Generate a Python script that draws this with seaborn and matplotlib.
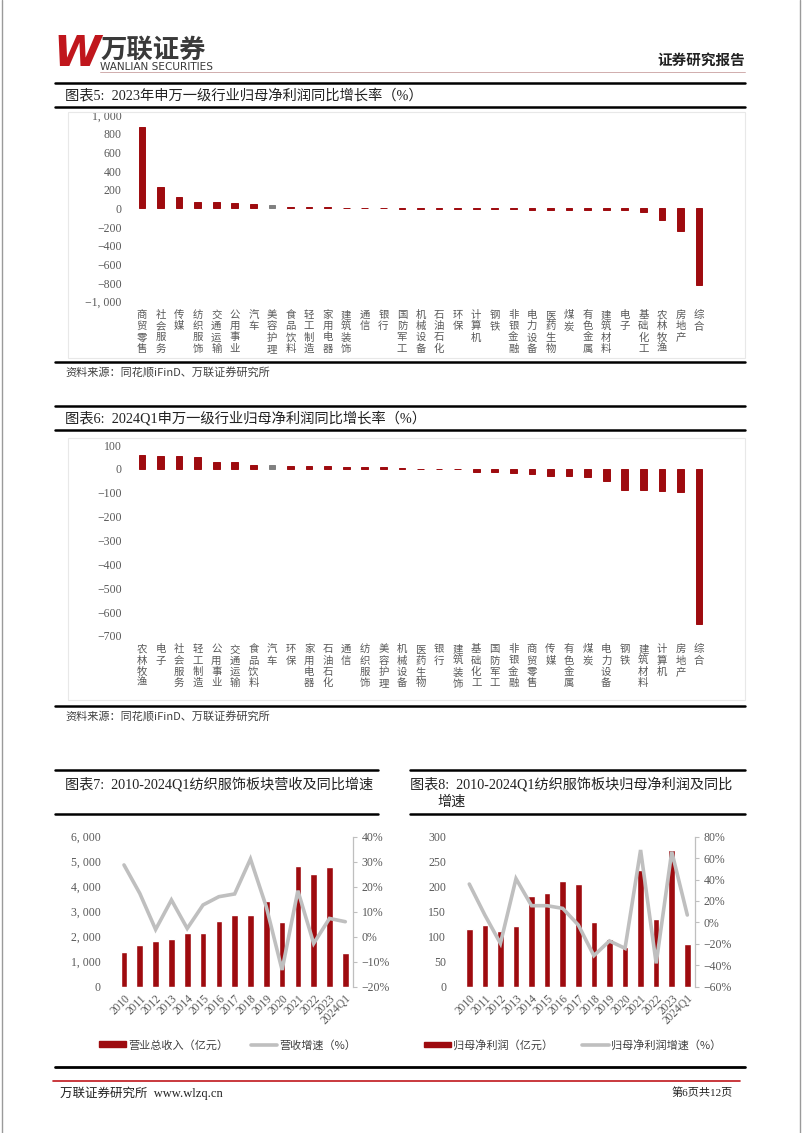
import numpy as np
import pandas as pd
import seaborn as sns
import matplotlib
matplotlib.use('Agg')
from matplotlib import pyplot as plt
from matplotlib.lines import Line2D
from matplotlib.patches import Rectangle, Patch

# ---- data: 2023 industry net profit growth (%)
ind_2023 = ['商贸零售', '社会服务', '传媒', '纺织服饰', '交通运输', '公用事业', '汽车', '美容护理',
            '食品饮料', '轻工制造', '家用电器', '建筑装饰', '通信', '银行', '国防军工', '机械设备',
            '石油石化', '环保', '计算机', '钢铁', '非银金融', '电力设备', '医药生物', '煤炭',
            '有色金属', '建筑材料', '电子', '基础化工', '农林牧渔', '房地产', '综合']
val_2023 = [868, 228, 125, 64, 63, 62, 45, 32, 17, 15, 12, 6, 2, 1, -2, -3,
            -4, -5, -9, -10, -11, -13, -17, -18, -20, -22, -23, -43, -125, -242, -825]

# ---- data: 2024Q1 industry net profit growth (%)
ind_2024 = ['农林牧渔', '电子', '社会服务', '轻工制造', '公用事业', '交通运输', '食品饮料', '汽车',
            '环保', '家用电器', '石油石化', '通信', '纺织服饰', '美容护理', '机械设备', '医药生物',
            '银行', '建筑装饰', '基础化工', '国防军工', '非银金融', '商贸零售', '传媒', '有色金属',
            '煤炭', '电力设备', '钢铁', '建筑材料', '计算机', '房地产', '综合']
val_2024 = [60, 53, 53, 48, 27, 27, 17, 15, 13, 11, 11, 8, 7, 6, 4, -1,
            -1, -1, -14, -14, -17, -20, -28, -31, -35, -52, -87, -90, -92, -97, -650]

# ---- data: textile & apparel sector 2010-2024Q1
years = ['2010', '2011', '2012', '2013', '2014', '2015', '2016', '2017', '2018', '2019',
         '2020', '2021', '2022', '2023', '2024Q1']
revenue = [1400, 1650, 1840, 1890, 2145, 2160, 2640, 2850, 2865, 3430, 2600, 4840, 4505, 4800, 1360]
rev_growth = [28.7, 17.3, 2.9, 14.7, 3.3, 12.7, 16.0, 17.1, 31.1, 12.0, -13.3, 18.4, -2.7, 7.3, 6.0]
profit = [115, 123, 111, 122, 181, 187, 212, 205, 130, 96, 80, 233, 135, 274, 85]
profit_growth = [35.8, 6.9, -19.6, 40.8, 15.6, 15.6, 13.1, -2.4, -31.0, -17.3, -24.2, 67.6, -38.2, 66.0, 6.9]

RED = '#9E0B0F'
GRAY_BAR = '#808080'
GRAY_LINE = '#BFBFBF'
TXT = '#595959'

sns.set_theme(style='white')
plt.rcParams['font.family'] = ['Noto Sans CJK SC', 'DejaVu Sans']
plt.rcParams['axes.unicode_minus'] = True
SERIF = ['Liberation Serif', 'Noto Sans CJK SC', 'DejaVu Sans']

W, H = 802, 1133
fig = plt.figure(figsize=(W / 100, H / 100), dpi=100)


def box(l, t, w, h):
    return [l / W, 1 - (t + h) / H, w / W, h / H]


def hline(y, x0, x1, lw=1.5, color='black'):
    fig.add_artist(Line2D([x0 / W, x1 / W], [1 - y / H, 1 - y / H], lw=lw, color=color))


def ftext(x, y, s, **kw):
    fig.text(x / W, 1 - y / H, s, **kw)


def fmt_num(v):
    s = f'{abs(v):,}'.replace(',', ', ')
    return ('\u2212' + s) if v < 0 else s


# page borders
fig.add_artist(Line2D([1.5 / W, 1.5 / W], [0, 1], lw=1, color='#9A9A9A'))
fig.add_artist(Line2D([800 / W, 800 / W], [0, 1], lw=1, color='#9A9A9A'))

# header
ftext(53, 54, 'W', fontsize=31, color='#C0161C', fontweight='bold', style='italic',
      family='DejaVu Sans', va='center')
ftext(100, 50, '万联证券', fontsize=19, color='#3A3A3A', fontweight='bold', va='center')
ftext(100, 67, 'WANLIAN SECURITIES', fontsize=7.6, color='#3A3A3A', va='center', family='DejaVu Sans')
hline(72, 100, 745, lw=0.6, color='#C9A0A0')
ftext(745, 60, '证券研究报告', fontsize=10.5, fontweight='bold', color='#222222', ha='right', va='center')


def industry_chart(top, title, names, vals, gray_name, ymin, ymax, step, ax_top, ax_h, src_y, frame):
    hline(top, 55, 745, lw=1.8)
    ftext(65, top + 12, title, fontsize=10.3, family=SERIF, va='center', color='#222222')
    hline(top + 24, 55, 745, lw=1.8)
    fig.add_artist(Rectangle((68 / W, 1 - frame[1] / H), 677 / W, (frame[1] - frame[0]) / H,
                             transform=fig.transFigure, fill=False, ec='#E8E8E8', lw=0.8))
    ax = fig.add_axes(box(132.7, ax_top, 575.6, ax_h))
    pal = {n: (GRAY_BAR if n == gray_name else RED) for n in names}
    df = pd.DataFrame({'industry': names, 'value': vals})
    sns.barplot(data=df, x='industry', y='value', hue='industry', palette=pal, legend=False,
                width=0.36, saturation=1, ax=ax, linewidth=0.7)
    # bars keep a hairline outline in their own colour so near-zero values read as dashes
    for p in ax.patches:
        p.set_edgecolor(p.get_facecolor())
    ax.set_xlim(-0.5, len(names) - 0.5)
    ax.set_ylim(ymin, ymax)
    ticks = np.arange(ymin, ymax + 1, step)
    ax.set_yticks(ticks)
    ax.set_yticklabels([fmt_num(int(t)) for t in ticks], family=SERIF, fontsize=8.5, color=TXT)
    ax.set_xticks(range(len(names)))
    ax.set_xticklabels(['\n'.join(n) for n in names], fontsize=7.5, color=TXT,
                       va='top', linespacing=1.15)
    ax.tick_params(axis='both', length=0)
    ax.tick_params(axis='y', pad=8)
    ax.tick_params(axis='x', pad=6)
    ax.set_xlabel('')
    ax.set_ylabel('')
    for s in ax.spines.values():
        s.set_visible(False)
    ax.patch.set_alpha(0)
    hline(src_y - 11, 55, 745, lw=1.8)
    ftext(65, src_y, '资料来源：同花顺iFinD、万联证券研究所', fontsize=8, color='#404040',
          va='center', style='italic')


industry_chart(83, '图表5:  2023年申万一级行业归母净利润同比增长率（%）', ind_2023, val_2023, '美容护理',
               -1000, 1000, 200, 115, 186.7, 373, (112, 358))
industry_chart(406, '图表6:  2024Q1申万一级行业归母净利润同比增长率（%）', ind_2024, val_2024, '汽车',
               -700, 100, 100, 445, 191, 717, (438, 700))


def sector_chart(x0, x1, ax_left, ax_w, bars, line, bmax, bstep, lmin, lmax, lstep,
                 bar_label, line_label, leg_cx, col_space):
    hline(770, x0, x1, lw=1.8)
    hline(814, x0, x1, lw=1.8)
    ax = fig.add_axes(box(ax_left, 836.7, ax_w, 150))
    df = pd.DataFrame({'year': years, 'value': bars})
    sns.barplot(data=df, x='year', y='value', color=RED, width=0.42, saturation=1, ax=ax)
    ax.set_xlim(-0.5, len(years) - 0.5)
    ax.set_ylim(0, bmax)
    bt = np.arange(0, bmax + 1, bstep)
    ax.set_yticks(bt)
    ax.set_yticklabels([fmt_num(int(t)) for t in bt], family=SERIF, fontsize=8.5, color=TXT)
    ax.set_xticks(range(len(years)))
    ax.set_xticklabels(years, rotation=45, ha='right', rotation_mode='anchor',
                       family=SERIF, fontsize=8.3, color=TXT)
    ax.tick_params(axis='both', length=0)
    ax.tick_params(axis='y', pad=11)
    ax.tick_params(axis='x', pad=4)
    ax.set_xlabel('')
    ax.set_ylabel('')
    for s in ax.spines.values():
        s.set_visible(False)

    ax2 = ax.twinx()
    ax2.plot(ax.get_xticks(), line, color=GRAY_LINE, lw=2.6, solid_joinstyle='miter')
    ax2.set_ylim(lmin, lmax)
    lt = np.arange(lmin, lmax + 1, lstep)
    ax2.set_yticks(lt)
    ax2.set_yticklabels([('\u2212' if t < 0 else '') + f'{abs(int(t))}%' for t in lt],
                        family=SERIF, fontsize=8.5, color=TXT)
    ax2.tick_params(axis='y', length=3, width=0.8, color=GRAY_LINE, pad=3, direction='out')
    for k, s in ax2.spines.items():
        s.set_visible(k == 'right')
    ax2.spines['right'].set_color(GRAY_LINE)
    ax2.spines['right'].set_linewidth(0.9)
    ax2.grid(False)
    ax.grid(False)

    handles = [Patch(facecolor=RED, edgecolor=RED),
               Line2D([0], [0], color=GRAY_LINE, lw=2.6)]
    ax.legend(handles, [bar_label, line_label], loc='center', ncol=2, frameon=False,
              bbox_to_anchor=(leg_cx / W, 1 - 1045 / H), bbox_transform=fig.transFigure,
              fontsize=8, handlelength=2.4, handleheight=0.45, handletextpad=0.2,
              columnspacing=col_space, labelcolor='#404040')
    return ax


ftext(65, 784, '图表7:  2010-2024Q1纺织服饰板块营收及同比增速', fontsize=10.2, family=SERIF,
      va='center', color='#222222')
ftext(410, 784, '图表8:  2010-2024Q1纺织服饰板块归母净利润及同比', fontsize=10.2, family=SERIF,
      va='center', color='#222222')
ftext(437, 802, '增速', fontsize=10.2, va='center', color='#222222')

sector_chart(55, 378, 116.1, 237.1, revenue, rev_growth, 6000, 1000, -20, 40, 10,
             '营业总收入（亿元）', '营收增速（%）', 228, 2.0)
sector_chart(410, 745, 461.5, 233.6, profit, profit_growth, 300, 50, -60, 80, 20,
             '归母净利润（亿元）', '归母净利润增速（%）', 573, 2.6)

# footer
hline(1067, 55, 745, lw=2)
hline(1081, 53, 740, lw=1.2, color='#C0161C')
ftext(60, 1093, '万联证券研究所  www.wlzq.cn', fontsize=9, family=SERIF, va='center', color='#222222')
ftext(733, 1093, '第6页共12页', fontsize=8, family=SERIF, va='center', ha='right', color='#222222')

fig.savefig('out.png', dpi=100)
